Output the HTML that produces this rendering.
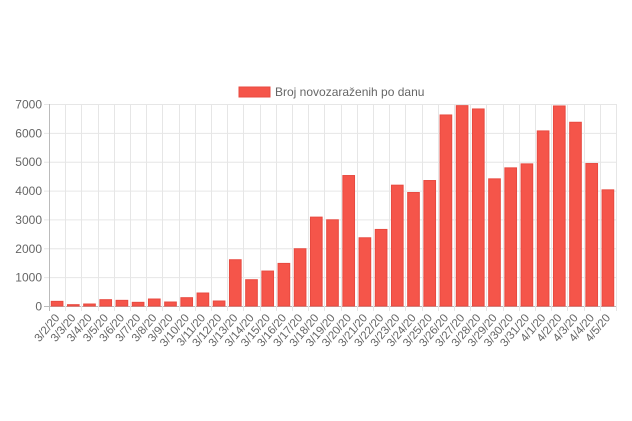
<!DOCTYPE html>
<html><head><meta charset="utf-8"><style>
html,body{margin:0;padding:0;background:#fff;}
svg{display:block;font-family:"Liberation Sans",sans-serif;}
</style></head><body>
<svg id="chart" width="632" height="421">
<g>
<rect x="239" y="87" width="31" height="10" fill="#f5554a" stroke="#e84a40"/>
<text x="275" y="96" font-size="12" fill="#666">Broj novozaraženih po danu</text>
</g>
<g id="grid"></g><g id="bars"></g><g id="labels"></g>
</svg>
<script>
const categories=["3/2/20","3/3/20","3/4/20","3/5/20","3/6/20","3/7/20","3/8/20","3/9/20","3/10/20","3/11/20","3/12/20","3/13/20","3/14/20","3/15/20","3/16/20","3/17/20","3/18/20","3/19/20","3/20/20","3/21/20","3/22/20","3/23/20","3/24/20","3/25/20","3/26/20","3/27/20","3/28/20","3/29/20","3/30/20","3/31/20","4/1/20","4/2/20","4/3/20","4/4/20","4/5/20"];
const values=[161,46,69,219,196,127,242,138,288,450,173,1603,911,1211,1476,1984,3080,2987,4521,2364,2653,4187,3933,4348,6620,6943,6828,4406,4787,4925,6067,6932,6367,4937,4025];
const yTicks=[0,1000,2000,3000,4000,5000,6000,7000];
const L=49,R=616,T=104,B=306,yMax=7000;
const NS="http://www.w3.org/2000/svg";
const step=(R-L)/categories.length;
function xScale(i){return L+i*step;}
function yScale(v){return B-(v/yMax)*(B-T);}
function mk(tag,attrs,parent){const e=document.createElementNS(NS,tag);for(const k in attrs)e.setAttribute(k,attrs[k]);parent.appendChild(e);return e;}
const grid=document.getElementById('grid'),bars=document.getElementById('bars'),labels=document.getElementById('labels');
yTicks.forEach(t=>{
 const y=yScale(t)+0.5;
 const ln=mk('line',{x1:L-5,x2:R,y1:y,y2:y,stroke:t===0?'#bbb':'#e6e6e6'},grid);
 
 
 const tx=mk('text',{x:L-7,y:y+4,'text-anchor':'end','font-size':'12',fill:'#666'},labels);
 tx.textContent=t;
 
 
});
for(let i=0;i<=categories.length;i++){
 const x=Math.round(xScale(i))+0.5;
 const ln=mk('line',{x1:x,x2:x,y1:T,y2:B+5,stroke:i===0?'#bbb':'#e6e6e6'},grid);
 
 
}
categories.forEach((c,i)=>{
 const bw=step*0.72,x=xScale(i)+(step-bw)/2,y=yScale(values[i]);
 const r=mk('rect',{x:x,y:y,width:bw,height:B-y,fill:'#f5554a',stroke:'#e84a40','stroke-width':1},bars);
 
 
 const cx=xScale(i)+step/2+3;
 const tx=mk('text',{x:cx,y:B+12,'text-anchor':'end','font-size':'11.5',fill:'#666',transform:`rotate(-50 ${cx} ${B+12})`},labels);
 tx.textContent=c;
 
 
});
</script>
</body></html>
